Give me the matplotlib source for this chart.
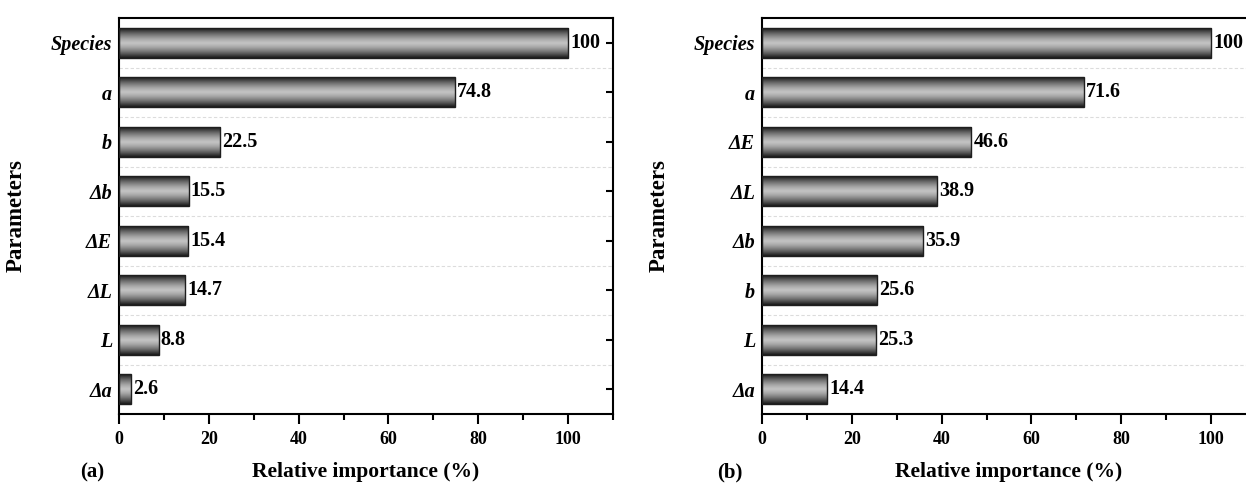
import matplotlib
matplotlib.use('Agg')
import matplotlib.pyplot as plt
import numpy as np
from matplotlib.ticker import MultipleLocator, FixedLocator

plt.rcParams['font.family'] = ['Liberation Serif', 'DejaVu Serif']
plt.rcParams['font.weight'] = 'bold'

# panel (a)
params_a = ['Species', 'a', 'b', '\u0394b', '\u0394E', '\u0394L', 'L', '\u0394a']
values_a = [100, 74.8, 22.5, 15.5, 15.4, 14.7, 8.8, 2.6]
labels_a = ['100', '74.8', '22.5', '15.5', '15.4', '14.7', '8.8', '2.6']

# panel (b)
params_b = ['Species', 'a', '\u0394E', '\u0394L', '\u0394b', 'b', 'L', '\u0394a']
values_b = [100, 71.6, 46.6, 38.9, 35.9, 25.6, 25.3, 14.4]
labels_b = ['100', '71.6', '46.6', '38.9', '35.9', '25.6', '25.3', '14.4']

xticks = [0, 20, 40, 60, 80, 100]

W, H = 1246, 483

# vertical shading used inside each bar (dark edges, light middle)
t = np.linspace(-1, 1, 64)
shade = 0.10 + 0.66 * (1 - np.abs(t) ** 1.4)
shade = np.tile(shade[:, None], (1, 2))


def draw_panel(ax, names, vals, texts, tag, tag_x):
    pos = np.arange(len(names))
    bars = ax.barh(pos, vals, height=0.6, color='none', edgecolor='#1e1e1e',
                   linewidth=1.0, zorder=3)
    for b in bars:
        x0, y0 = b.get_x(), b.get_y()
        w, h = b.get_width(), b.get_height()
        ax.imshow(shade, cmap='gray', vmin=0, vmax=1, aspect='auto',
                  extent=(x0, x0 + w, y0 + h, y0), interpolation='bilinear',
                  zorder=2)
    for p, v, s in zip(pos, vals, texts):
        ax.text(v + 0.5, p, s, va='center', ha='left', fontsize=14.5,
                fontweight='bold', zorder=4)

    ax.set_xlim(0, 110)
    ax.set_ylim(len(names) - 0.5, -0.5)
    ax.xaxis.set_major_locator(FixedLocator(xticks))
    ax.xaxis.set_minor_locator(MultipleLocator(10))
    ax.set_yticks(pos)
    ax.set_yticklabels(names, fontstyle='italic', fontweight='bold', fontsize=14.5)
    ax.yaxis.set_minor_locator(FixedLocator(pos[:-1] + 0.5))
    ax.grid(which='minor', axis='y', linestyle=(0, (3, 2)), color='#dcdcdc',
            linewidth=0.8, zorder=0)
    ax.tick_params(axis='y', which='major', left=False, right=True,
                   direction='in', length=5, width=1.5, pad=5)
    ax.tick_params(axis='y', which='minor', left=False, right=False)
    ax.tick_params(axis='x', which='major', direction='out', length=7,
                   width=1.5, labelsize=13, pad=5)
    ax.tick_params(axis='x', which='minor', direction='out', length=4,
                   width=1.5)
    for lab in ax.get_xticklabels():
        lab.set_fontweight('bold')
    for sp in ax.spines.values():
        sp.set_linewidth(1.5)

    ax.set_xlabel('Relative importance (%)', fontsize=15.5, fontweight='bold',
                  va='top')
    ax.xaxis.set_label_coords(0.5, -0.12)
    ax.set_ylabel('Parameters', fontsize=16.5, fontweight='bold')
    ax.yaxis.set_label_coords(-0.186, 0.5)
    fig.text(tag_x / W, 1 - 462 / H, tag, fontsize=15, fontweight='bold',
             va='top', ha='left')


fig = plt.figure(figsize=(W / 100, H / 100), dpi=100, facecolor='white')
ax1 = fig.add_axes([119 / W, (H - 414) / H, 494 / W, 396 / H])
ax2 = fig.add_axes([762 / W, (H - 414) / H, 494 / W, 396 / H])

draw_panel(ax1, params_a, values_a, labels_a, '(a)', 80)
draw_panel(ax2, params_b, values_b, labels_b, '(b)', 717)

fig.savefig('out.png', dpi=100, facecolor='white')
